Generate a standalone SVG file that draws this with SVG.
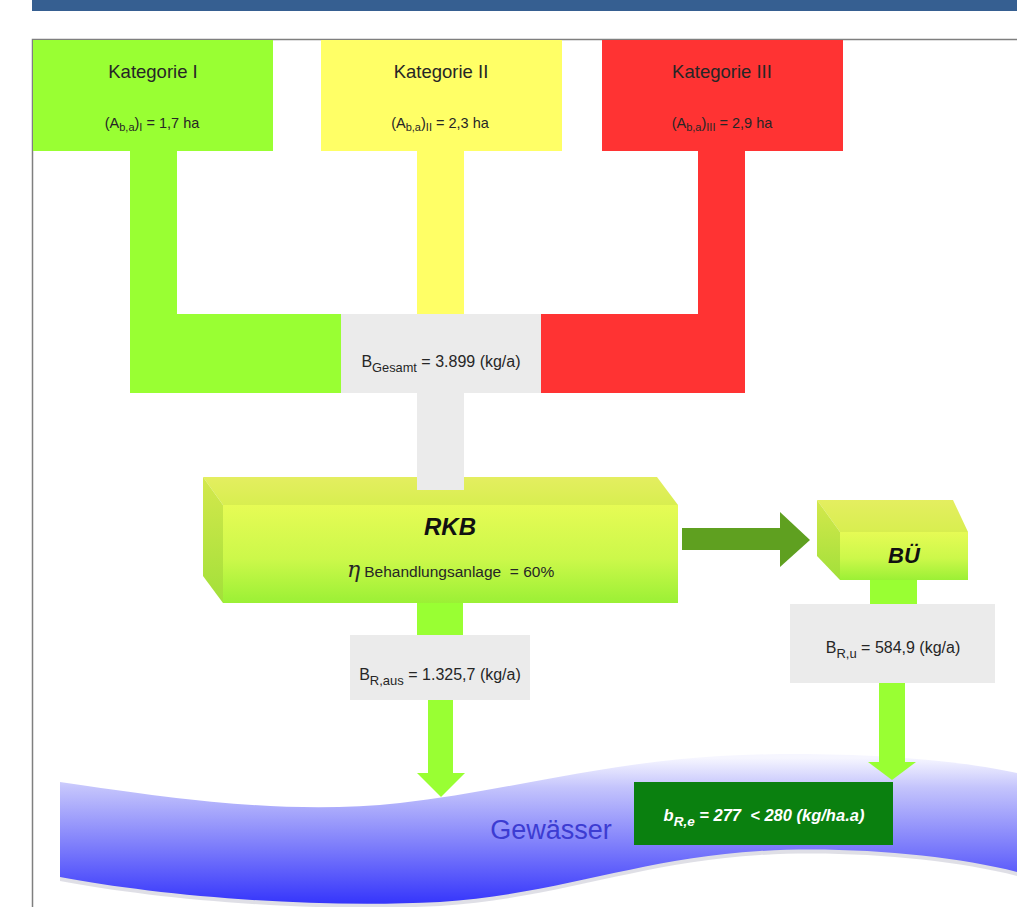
<svg xmlns="http://www.w3.org/2000/svg" width="1017" height="907" viewBox="0 0 1017 907">
<style>
text{font-family:"Liberation Sans",Arial,sans-serif;fill:#262626}
.cat{font-size:18.5px}
.sub{font-size:14.5px}
.val{font-size:16px}
.bi{font-weight:bold;font-style:italic;fill:#111}
.green{fill:#99ff33}
.yellow{fill:#ffff66}
.red{fill:#ff3333}
.grey{fill:#ebebeb}
</style>
<defs>
<linearGradient id="front" x1="0" y1="0" x2="0" y2="1">
<stop offset="0" stop-color="#e6fb55"/>
<stop offset="0.55" stop-color="#ccf84a"/>
<stop offset="1" stop-color="#9bf035"/>
</linearGradient>
<linearGradient id="top" x1="0" y1="0" x2="0" y2="1">
<stop offset="0" stop-color="#e4ee60"/>
<stop offset="1" stop-color="#d8ee50"/>
</linearGradient>
<linearGradient id="side" x1="0" y1="0" x2="0" y2="1">
<stop offset="0" stop-color="#d4e84c"/>
<stop offset="1" stop-color="#a2e03a"/>
</linearGradient>
<linearGradient id="water" x1="0" y1="758" x2="0" y2="905" gradientUnits="userSpaceOnUse">
<stop offset="0" stop-color="#f6f6ff"/>
<stop offset="0.2" stop-color="#c4c4fc"/>
<stop offset="0.6" stop-color="#7d7dfb"/>
<stop offset="1" stop-color="#3434fb"/>
</linearGradient>
</defs>
<rect width="1017" height="907" fill="#fff"/>
<rect x="32" y="0" width="985" height="11" fill="#365f91"/>
<path d="M32.5,907 V39.5 H1017" fill="none" stroke="#7f7f7f" stroke-width="1.5"/>

<g id="water-body">
<path d="M60,785 C200,806 300,817 400,806 C500,795 600,766 720,759 C830,753 950,761 1017,776 L1017,876 C950,859 850,850 760,855 C640,862 560,898 440,906 C300,913 150,898 60,881 Z" fill="#c9c9d6" opacity="0.6"/>
<path d="M60,782 C200,803 300,814 400,803 C500,792 600,763 720,756 C830,750 950,758 1017,773 L1017,872 C950,855 850,846 760,851 C640,858 560,894 440,902 C300,909 150,894 60,877 Z" fill="url(#water)"/>
<text x="551" y="839" font-size="27" style="fill:#3c3cd2" text-anchor="middle">Gewässer</text>
</g>

<g id="connectors">
<rect class="green" x="130" y="151" width="47" height="163"/>
<rect class="green" x="130" y="314" width="211" height="79"/>
<rect class="yellow" x="417" y="151" width="47" height="163"/>
<rect class="red" x="698" y="151" width="47" height="163"/>
<rect class="red" x="541" y="314" width="204" height="79"/>
<rect class="green" x="417" y="600" width="46" height="36"/>
<rect class="green" x="428" y="699" width="25" height="75"/>
<polygon class="green" points="417,773 465,773 441,797"/>
<rect x="682" y="528" width="99" height="22" fill="#5fa020"/>
<polygon points="780,512 810,540 780,567" fill="#5fa020"/>
<rect class="green" x="870" y="578" width="47" height="27"/>
<rect class="green" x="879" y="682" width="26" height="81"/>
<polygon class="green" points="868,762 916,762 892,780"/>
</g>

<g id="kat1">
<rect class="green" x="33" y="40" width="240" height="111"/>
<text class="cat" x="153" y="78" text-anchor="middle">Kategorie I</text>
<text class="sub" x="152" y="128" text-anchor="middle">(A<tspan font-size="11" dy="3">b,a</tspan><tspan dy="-3">)</tspan><tspan font-size="11" dy="3">I</tspan><tspan dy="-3"> = 1,7 ha</tspan></text>
</g>

<g id="kat2">
<rect class="yellow" x="321" y="40" width="241" height="111"/>
<text class="cat" x="441" y="78" text-anchor="middle">Kategorie II</text>
<text class="sub" x="440" y="128" text-anchor="middle">(A<tspan font-size="11" dy="3">b,a</tspan><tspan dy="-3">)</tspan><tspan font-size="11" dy="3">II</tspan><tspan dy="-3"> = 2,3 ha</tspan></text>
</g>

<g id="kat3">
<rect class="red" x="602" y="40" width="241" height="111"/>
<text class="cat" x="722" y="78" text-anchor="middle">Kategorie III</text>
<text class="sub" x="722" y="128" text-anchor="middle">(A<tspan font-size="11" dy="3">b,a</tspan><tspan dy="-3">)</tspan><tspan font-size="11" dy="3">III</tspan><tspan dy="-3"> = 2,9 ha</tspan></text>
</g>

<g id="gesamt">
<rect class="grey" x="341" y="314" width="200" height="79"/>
<text class="val" x="441" y="367" text-anchor="middle">B<tspan font-size="12.8" dy="5">Gesamt</tspan><tspan dy="-5"> = 3.899 (kg/a)</tspan></text>
</g>

<g id="rkb">
<polygon points="203,477 657,477 678,505 223,505" fill="url(#top)"/>
<polygon points="203,477 223,505 223,603 203,576" fill="url(#side)"/>
<rect x="223" y="505" width="455" height="98" fill="url(#front)"/>
<rect class="grey" x="417" y="393" width="47" height="97"/>
<text class="bi" x="450" y="535" font-size="24" text-anchor="middle">RKB</text>
<text x="347" y="577" font-size="15.5"><tspan font-size="22" font-style="italic" font-family="'DejaVu Serif',serif">η</tspan><tspan dx="4">Behandlungsanlage &#160;= 60%</tspan></text>
</g>

<g id="bue">
<polygon points="817,500 953,500 968,532 840,532" fill="url(#top)"/>
<polygon points="817,500 840,532 840,580 817,556" fill="url(#side)"/>
<rect x="840" y="532" width="128" height="48" fill="url(#front)"/>
<text class="bi" x="904" y="563" font-size="22" text-anchor="middle">BÜ</text>
</g>

<g id="raus">
<rect class="grey" x="350" y="635" width="180" height="65"/>
<text class="val" x="440" y="680" font-size="16.5" text-anchor="middle">B<tspan font-size="13" dy="5">R,aus</tspan><tspan dy="-5"> = 1.325,7 (kg/a)</tspan></text>
</g>

<g id="ru">
<rect class="grey" x="790" y="604" width="205" height="79"/>
<text class="val" x="893" y="653" font-size="16.5" text-anchor="middle">B<tspan font-size="13" dy="5">R,u</tspan><tspan dy="-5"> = 584,9 (kg/a)</tspan></text>
</g>

<g id="result">
<rect x="634" y="782" width="259" height="63" fill="#0a800f"/>
<text x="764" y="821" font-size="16.5" font-weight="bold" font-style="italic" text-anchor="middle" style="fill:#fff">b<tspan font-size="13.5" dy="5">R,e</tspan><tspan dy="-5"> = 277 &#160;&lt; 280 (kg/ha.a)</tspan></text>
</g>
</svg>
